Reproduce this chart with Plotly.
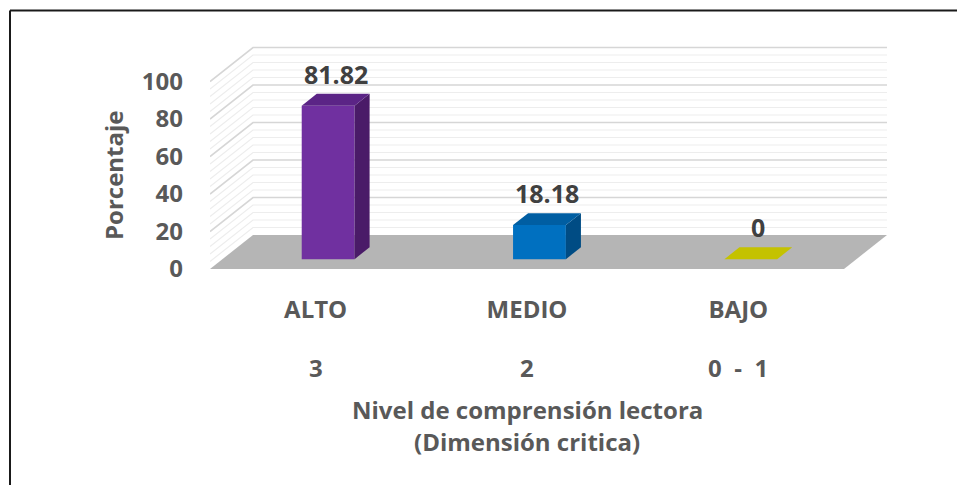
import plotly.graph_objects as go

# ---- data ----
categories = ["ALTO", "MEDIO", "BAJO"]
levels = ["3", "2", "0  -  1"]
percentages = [81.82, 18.18, 0]
y_ticks = [0, 20, 40, 60, 80, 100]
minor_step = 4
x_title_lines = ["Nivel de comprensión lectora", "(Dimensión critica)"]
y_title = "Porcentaje"

front_colors = ["#7030A0", "#0070C0", "#C8C800"]
side_colors = ["#4A1B68", "#004C84", "#9A9A00"]
top_colors = ["#5B2486", "#005EA2", "#C4C200"]

# ---- geometry / style ----
W, H = 957, 485
ML, MR, MT, MB = 210, 70, 40, 210
plot_w = W - ML - MR
plot_h = H - MT - MB
PX_PER_UNIT = 1.875
DEPTH_PX_X, DEPTH_PX_Y = 43, 34
n = len(categories)
px_per_cat = (plot_w - DEPTH_PX_X) / n
DX = DEPTH_PX_X / px_per_cat
DY = DEPTH_PX_Y / PX_PER_UNIT
x_lo, x_hi = -0.5, n - 0.5
y_bottom = -6 / PX_PER_UNIT
y_top = (plot_h - 6) / PX_PER_UNIT
D0, D1 = 0.29, 0.64
HW = 0.125
FONT = "Open Sans"
TXT = "#595959"

fig = go.Figure()


def poly(xs, ys, color):
    fig.add_trace(go.Scatter(x=xs + [xs[0]], y=ys + [ys[0]], mode="lines",
                             fill="toself", fillcolor=color,
                             line=dict(width=0, color=color),
                             hoverinfo="skip", showlegend=False))


def gridlines(values, color, width):
    xs, ys = [], []
    for v in values:
        xs += [x_lo, x_lo + DX, x_hi + DX, None]
        ys += [v, v + DY, v + DY, None]
    fig.add_trace(go.Scatter(x=xs, y=ys, mode="lines",
                             line=dict(color=color, width=width),
                             hoverinfo="skip", showlegend=False))


major = [v for v in y_ticks if v > 0]
minor = [v for v in range(minor_step, max(y_ticks), minor_step) if v not in y_ticks]
gridlines(minor, "#EDEDED", 1.2)
gridlines(major, "#D6D6D6", 1.6)

# floor
poly([x_lo, x_hi, x_hi + DX, x_lo + DX], [0, 0, DY, DY], "#B5B5B5")

# bars
for i, v in enumerate(percentages):
    xl = i - HW + D0 * DX
    xr = i + HW + D0 * DX
    y0 = D0 * DY
    ddx = (D1 - D0) * DX
    ddy = (D1 - D0) * DY
    if v > 0:
        poly([xl, xr, xr, xl], [y0, y0, y0 + v, y0 + v], front_colors[i])
        poly([xr, xr + ddx, xr + ddx, xr], [y0, y0 + ddy, y0 + ddy + v, y0 + v], side_colors[i])
    poly([xl, xr, xr + ddx, xl + ddx], [y0 + v, y0 + v, y0 + v + ddy, y0 + v + ddy], top_colors[i])
    fig.add_annotation(x=i + (D0 + D1) / 2 * DX, y=v + D1 * DY, xref="x", yref="y",
                       text=f"<b>{v:g}</b>", showarrow=False, yanchor="bottom", yshift=1,
                       font=dict(family=FONT, size=25, color="#404040"))

# second row of category labels
for i, lv in enumerate(levels):
    fig.add_annotation(x=i, y=0, xref="x", yref="paper", text=f"<b>{lv}</b>",
                       showarrow=False, yanchor="middle", yshift=-92,
                       font=dict(family=FONT, size=24, color=TXT))

# x title
for k, t in enumerate(x_title_lines):
    fig.add_annotation(x=(n - 1) / 2, y=0, xref="x", yref="paper", text=f"<b>{t}</b>",
                       showarrow=False, yanchor="middle", yshift=-134 - 32 * k,
                       font=dict(family=FONT, size=24, color=TXT))

# y title
fig.add_annotation(x=0, y=(H - MB - 175) / plot_h,
                   xref="paper", yref="paper", text=f"<b>{y_title}</b>", textangle=-90,
                   showarrow=False, xanchor="center", yanchor="middle", xshift=113 - ML,
                   font=dict(family=FONT, size=24, color=TXT))

# outer border (left and top)
bx = (10 - ML) / plot_w
by = (H - MB - 10.5) / plot_h
fig.add_shape(type="line", xref="paper", yref="paper", x0=bx, x1=bx, y0=by, y1=-2,
              line=dict(color="#1A1A1A", width=2))
fig.add_shape(type="line", xref="paper", yref="paper", x0=bx, x1=(W + 5 - ML) / plot_w, y0=by, y1=by,
              line=dict(color="#1A1A1A", width=2))

fig.update_layout(
    width=W, height=H,
    margin=dict(l=ML, r=MR, t=MT, b=MB),
    paper_bgcolor="white", plot_bgcolor="white",
    showlegend=False,
    xaxis=dict(range=[x_lo, x_hi + DX], tickvals=list(range(n)),
               ticktext=[f"<b>{c}</b>" for c in categories],
               showgrid=False, zeroline=False, showline=False,
               ticklabelstandoff=18,
               tickfont=dict(family=FONT, size=24, color=TXT)),
    yaxis=dict(range=[y_bottom, y_top], tickvals=y_ticks,
               ticktext=[f"<b>{t}</b>" for t in y_ticks],
               showgrid=False, zeroline=False, showline=False,
               ticklabelstandoff=26,
               tickfont=dict(family=FONT, size=24, color=TXT)),
)

fig.write_html("out.html", config={"displayModeBar": False},
               post_script="document.body.style.margin='0';document.body.style.overflow='hidden';")
